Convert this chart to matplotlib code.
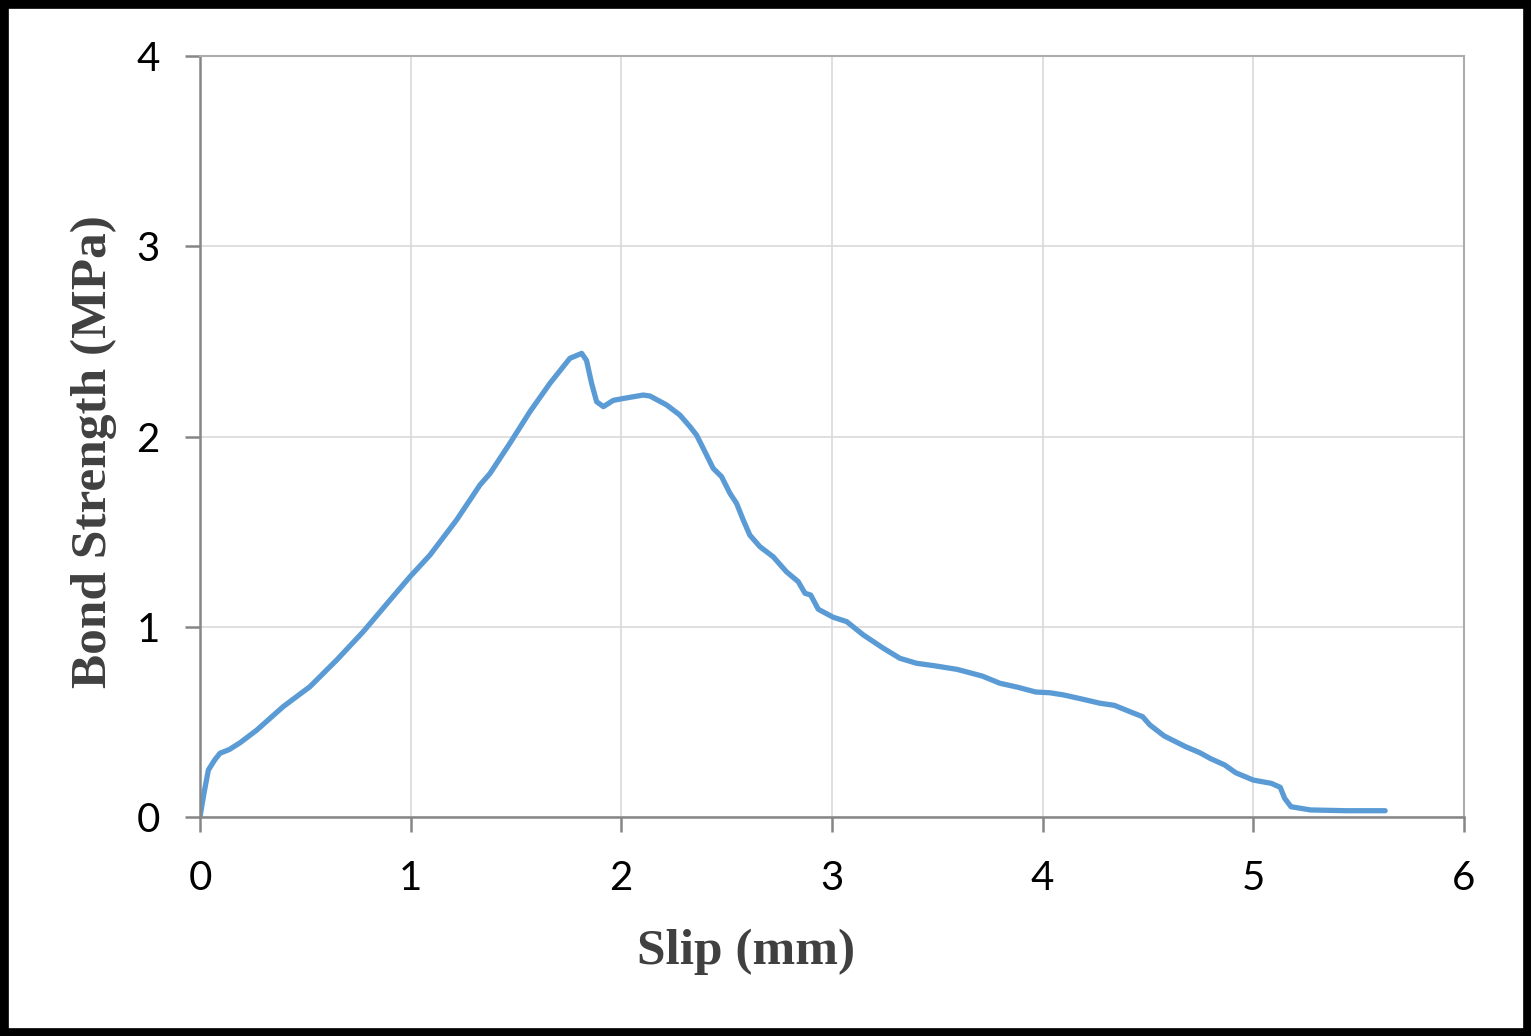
import numpy as np
import matplotlib.pyplot as plt
from matplotlib.patches import Rectangle

# slip (mm) vs bond strength (MPa)
slip = [0.0, 0.02, 0.04, 0.07, 0.095, 0.14, 0.19, 0.27, 0.395, 0.522, 0.649, 0.775,
        0.902, 0.997, 1.092, 1.218, 1.329, 1.377, 1.471, 1.566, 1.661, 1.756, 1.812,
        1.835, 1.859, 1.883, 1.915, 1.962, 2.01, 2.104, 2.136, 2.215, 2.278, 2.326,
        2.357, 2.389, 2.436, 2.476, 2.516, 2.547, 2.579, 2.61, 2.658, 2.721, 2.784,
        2.84, 2.872, 2.899, 2.935, 3.006, 3.07, 3.149, 3.244, 3.323, 3.402, 3.492,
        3.594, 3.713, 3.797, 3.882, 3.967, 4.035, 4.102, 4.187, 4.272, 4.34, 4.407,
        4.475, 4.509, 4.577, 4.678, 4.746, 4.797, 4.865, 4.916, 5.0, 5.085, 5.128,
        5.149, 5.179, 5.272, 5.442, 5.626]
bond = [0.0, 0.13, 0.247, 0.3, 0.335, 0.355, 0.39, 0.457, 0.58, 0.685, 0.825, 0.974,
        1.14, 1.263, 1.377, 1.561, 1.745, 1.806, 1.964, 2.13, 2.279, 2.411, 2.437,
        2.40, 2.28, 2.183, 2.157, 2.19, 2.20, 2.218, 2.213, 2.166, 2.113, 2.052,
        2.008, 1.938, 1.833, 1.789, 1.701, 1.649, 1.561, 1.482, 1.421, 1.368, 1.289,
        1.237, 1.176, 1.167, 1.092, 1.05, 1.027, 0.957, 0.887, 0.834, 0.808, 0.794,
        0.776, 0.741, 0.703, 0.682, 0.657, 0.653, 0.641, 0.62, 0.598, 0.587, 0.557,
        0.527, 0.484, 0.426, 0.37, 0.338, 0.307, 0.273, 0.233, 0.194, 0.177, 0.156,
        0.098, 0.054, 0.037, 0.033, 0.033]

x_ticks = [0, 1, 2, 3, 4, 5, 6]
y_ticks = [0, 1, 2, 3, 4]

fig = plt.figure(figsize=(15.31, 10.36), dpi=100)
ax = fig.add_axes([0.1306, 0.2114, 0.8256, 0.7345])

ax.plot(slip, bond, color='#5B9BD5', linewidth=3.8, solid_capstyle='round',
        solid_joinstyle='round')

ax.set_xlim(0, 6)
ax.set_ylim(0, 4)
ax.set_xticks(x_ticks)
ax.set_yticks(y_ticks)
ax.grid(True, color='#D9D9D9', linewidth=1.2)
ax.set_axisbelow(True)

for side in ['left', 'bottom']:
    ax.spines[side].set_color('#868686')
    ax.spines[side].set_linewidth(1.8)
for side in ['top', 'right']:
    ax.spines[side].set_color('#ADADAD')
    ax.spines[side].set_linewidth(1.5)

ax.tick_params(axis='both', direction='out', length=11, width=1.8, color='#868686',
               labelsize=29, labelcolor='black')
ax.tick_params(axis='x', pad=20)
ax.tick_params(axis='y', pad=18)
for lbl in ax.get_xticklabels() + ax.get_yticklabels():
    lbl.set_family(['Lato', 'DejaVu Sans'])

ax.set_xlabel('Slip (mm)', fontsize=37, fontweight='bold', color='#404040',
              family='Liberation Serif')
ax.xaxis.set_label_coords(0.432, -0.147)
ax.set_ylabel('Bond Strength (MPa)', fontsize=37, fontweight='bold', color='#404040',
              family='Liberation Serif')
ax.yaxis.set_label_coords(-0.066, 0.48)

# black frame round the whole picture
frame = Rectangle((0, 0), 1, 1, transform=fig.transFigure, fill=False,
                  edgecolor='black', linewidth=12)
fig.patches.append(frame)

fig.savefig('out.png', dpi=100)
